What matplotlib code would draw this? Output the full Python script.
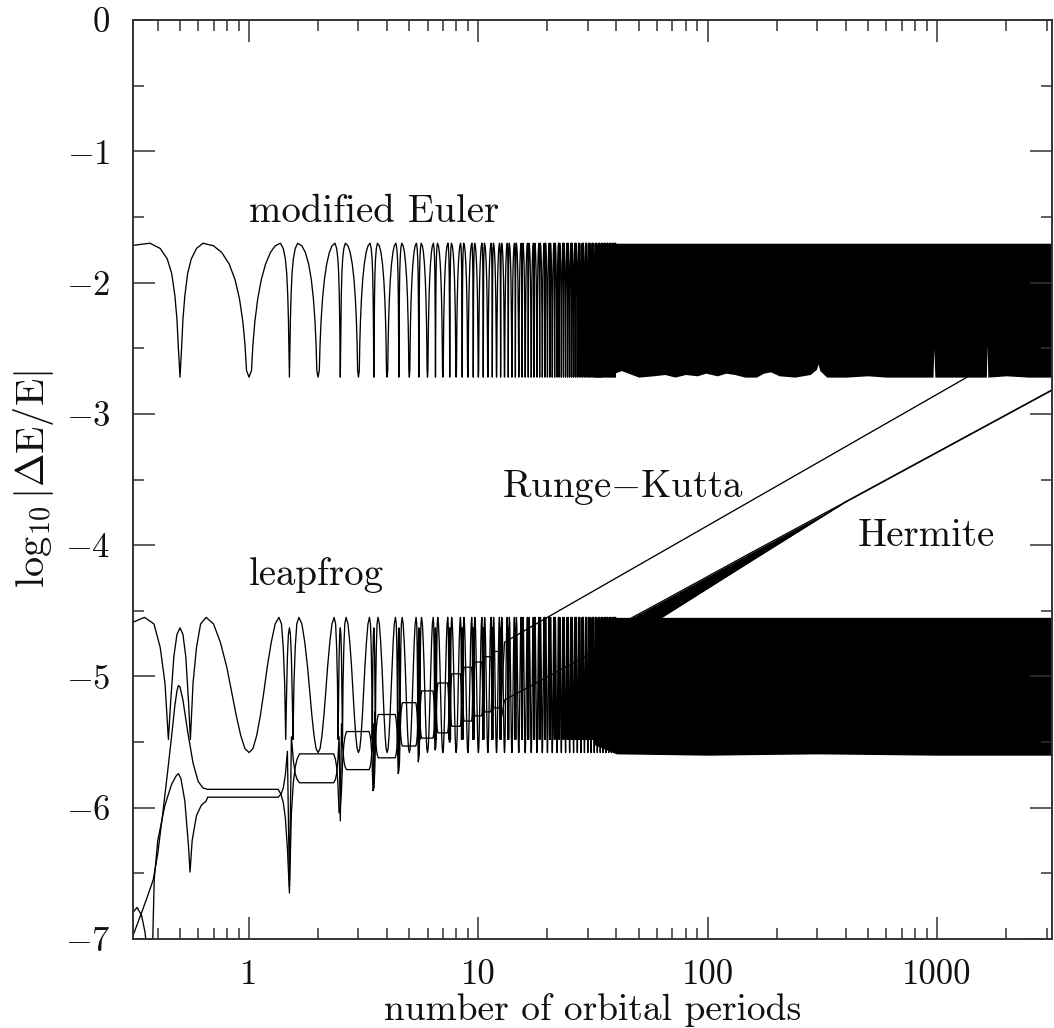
import numpy as np
import matplotlib
matplotlib.use("Agg")
import matplotlib.pyplot as plt
from matplotlib.ticker import FixedLocator, FixedFormatter, LogLocator, MultipleLocator, NullFormatter

# ---------------- values ----------------
x_limits = [0.311, 3160.0]
y_limits = [-7.0, 0.0]
x_tick_values = [1, 10, 100, 1000]
x_tick_labels = ["1", "10", "100", "1000"]
y_tick_values = [0, -1, -2, -3, -4, -5, -6, -7]
y_tick_labels = ["0", "$-1$", "$-2$", "$-3$", "$-4$", "$-5$", "$-6$", "$-7$"]

# modified Euler: level over one half orbit (phase 0 = apocentre, 0.5 = pericentre)
euler_phase = [0.000, 0.025, 0.040, 0.060, 0.090, 0.130, 0.180, 0.240, 0.300,
               0.370, 0.410, 0.440, 0.460, 0.475, 0.485, 0.492, 0.500]
euler_level = [-2.72, -2.67, -2.47, -2.30, -2.13, -1.98, -1.86, -1.77, -1.72,
               -1.70, -1.74, -1.82, -1.93, -2.10, -2.28, -2.50, -2.72]
euler_orbits = 40
euler_band_top = -1.70
euler_band_t = [32, 34, 38, 42, 45, 50, 58, 65, 72, 80, 90, 98, 110, 120, 131, 145,
                163, 175, 188, 205, 240, 280, 298, 303, 308, 330, 400, 500, 600, 800,
                960, 968, 978, 1200, 1640, 1650, 1665, 2000, 2500, 3160]
euler_band_low = [-2.72, -2.72, -2.70, -2.67, -2.69, -2.72, -2.71, -2.70, -2.72, -2.70,
                  -2.71, -2.69, -2.71, -2.69, -2.70, -2.72, -2.72, -2.69, -2.68, -2.71,
                  -2.72, -2.70, -2.66, -2.62, -2.67, -2.72, -2.72, -2.71, -2.72, -2.72,
                  -2.72, -2.50, -2.72, -2.72, -2.72, -2.48, -2.72, -2.71, -2.72, -2.72]

# leapfrog: level over one half orbit
leap_phase = [0.000, 0.040, 0.080, 0.120, 0.160, 0.200, 0.250, 0.300, 0.350,
              0.385, 0.410, 0.430, 0.445, 0.455, 0.470, 0.485, 0.500]
leap_level = [-5.58, -5.55, -5.45, -5.30, -5.12, -4.93, -4.74, -4.60, -4.55,
              -4.60, -4.78, -5.05, -5.48, -5.20, -4.85, -4.68, -4.63]
leap_orbits = 40
leap_band_top = -4.55
leap_band_t = [32, 40, 100, 300, 1000, 3160]
leap_band_low = [-5.52, -5.59, -5.60, -5.59, -5.60, -5.60]

# Runge-Kutta
rk_init_t = [0.311, 0.340, 0.360, 0.382, 0.400, 0.420, 0.440, 0.460, 0.475, 0.485,
             0.492, 0.500, 0.515, 0.540, 0.570, 0.600, 0.630]
rk_init_v = [-6.98, -6.80, -6.68, -6.55, -6.35, -6.05, -5.75, -5.45, -5.22, -5.11,
             -5.07, -5.08, -5.18, -5.42, -5.66, -5.80, -5.85]
rk_plateau = [-5.86, -5.59, -5.42, -5.29, -5.20, -5.11, -5.05, -4.98, -4.93, -4.89, -4.85, -4.81]
rk_dip = [-6.65, -6.00, -5.85, -5.72, -5.62, -5.55, -5.50, -5.45, -5.40, -5.36, -5.32, -5.28]
rk_line_t = [13.0, 20.0, 1500.0]
rk_line_v = [-4.74, -4.55, -2.675]

# Hermite
herm_init_t = [0.311, 0.325, 0.340, 0.352, 0.360, 0.366, 0.378, 0.381, 0.386, 0.400, 0.430,
               0.460, 0.480, 0.492, 0.505, 0.525, 0.545, 0.553, 0.565, 0.590, 0.620, 0.650]
herm_init_v = [-6.80, -6.76, -6.82, -6.95, -7.10, -7.40, -7.40, -6.95, -6.55, -6.25, -5.98,
               -5.82, -5.76, -5.74, -5.78, -5.95, -6.30, -6.49, -6.25, -6.06, -5.98, -5.95]
herm_plateau = [-5.92, -5.81, -5.71, -5.62, -5.53, -5.47, -5.43, -5.38, -5.34, -5.30, -5.27, -5.24]
herm_dip = [-6.60, -6.10, -5.85, -5.66, -5.60, -5.55, -5.50, -5.47, -5.44, -5.41, -5.38, -5.35]
herm_line_t = [13.0, 40.0]
herm_line_v = [-5.18, -4.72]
herm_wedge_t = [40, 47, 63, 150, 400]
herm_wedge_hi = [-4.62, -4.55, -4.43, -4.07, -3.67]
herm_wedge_lo = [-4.77, -4.69, -4.55, -4.135, -3.67]
herm_tail_t = [400, 3160]
herm_tail_v = [-3.67, -2.82]

# shape of one orbit "pillow" (offset around the orbit-centred plateau)
pillow_u = [-0.47, -0.44, -0.41, -0.38, -0.34, 0.34, 0.38, 0.41, 0.44, 0.47]
rk_shape = [-0.45, -0.22, -0.10, -0.04, 0.0, 0.0, -0.04, -0.10, -0.22, -0.45]
herm_shape = [0.35, 0.17, 0.07, 0.025, 0.0, 0.0, 0.025, 0.07, 0.17, 0.35]

labels = {
    "modified Euler": (1.0, -1.54),
    "Runge$-$Kutta": (12.65, -3.633),
    "leapfrog": (1.0, -4.30),
    "Hermite": (451.0, -4.01),
}

# ---------------- helpers ----------------
def tile_orbits(phase, level, n_orbits, t_start):
    ph = np.asarray(phase, float)
    lv = np.asarray(level, float)
    ph_full = np.concatenate([ph, 1.0 - ph[::-1][1:]])
    lv_full = np.concatenate([lv, lv[::-1][1:]])
    ts, vs = [], []
    for k in range(n_orbits):
        ts.append(k + ph_full[:-1])
        vs.append(lv_full[:-1])
    t = np.concatenate(ts)
    v = np.concatenate(vs)
    keep = t >= t_start - 0.02
    return t[keep], v[keep]


def pillows(init_t, init_v, plateau, dip, shape):
    t = list(init_t)
    v = list(init_v)
    for i, p in enumerate(plateau):
        n = i + 1
        for u, off in zip(pillow_u, shape):
            if n == 1 and u < -0.34:
                continue
            t.append(n + u)
            v.append(p + off)
        t.append(n + 0.5)
        v.append(dip[i])
    return t, v

# ---------------- figure ----------------
plt.rcParams["font.family"] = ["cmr10", "DejaVu Serif"]
plt.rcParams["mathtext.fontset"] = "cm"
plt.rcParams["axes.unicode_minus"] = False
plt.rcParams["axes.formatter.use_mathtext"] = True

fig = plt.figure(figsize=(10.54, 10.28), dpi=100)
ax = fig.add_axes([0.1259, 0.0866, 0.8719, 0.8939])
ax.set_xscale("log")

lw = 0.95
col = "black"

# modified Euler
te, ve = tile_orbits(euler_phase, euler_level, euler_orbits, x_limits[0])
ax.plot(te, ve, color=col, lw=lw)
ax.fill_between(euler_band_t, euler_band_top, euler_band_low, color=col, lw=0)

# leapfrog
tl, vl = tile_orbits(leap_phase, leap_level, leap_orbits, x_limits[0])
ax.plot(tl, vl, color=col, lw=lw)
ax.fill_between(leap_band_t, leap_band_top, leap_band_low, color=col, lw=0)

# Runge-Kutta
rt, rv = pillows(rk_init_t, rk_init_v, rk_plateau, rk_dip, rk_shape)
rt += rk_line_t
rv += rk_line_v
ax.plot(rt, rv, color=col, lw=lw)

# Hermite
ht, hv = pillows(herm_init_t, herm_init_v, herm_plateau, herm_dip, herm_shape)
ht += herm_line_t
hv += herm_line_v
ax.plot(ht, hv, color=col, lw=lw)
ax.fill_between(herm_wedge_t, herm_wedge_hi, herm_wedge_lo, color=col, lw=0)
ax.plot(herm_wedge_t, herm_wedge_hi, color=col, lw=lw)
ax.plot(herm_wedge_t, herm_wedge_lo, color=col, lw=lw)
ax.plot(herm_tail_t, herm_tail_v, color=col, lw=lw * 1.3)

# texts
for txt, (xt, yt) in labels.items():
    ax.text(xt, yt, txt, fontsize=28, ha="left", va="baseline", color="#111111")

ax.set_xlim(*x_limits)
ax.set_ylim(*y_limits)

ax.xaxis.set_major_locator(FixedLocator(x_tick_values))
ax.xaxis.set_major_formatter(FixedFormatter(x_tick_labels))
ax.xaxis.set_minor_locator(LogLocator(base=10, subs=np.arange(2, 10), numticks=50))
ax.xaxis.set_minor_formatter(NullFormatter())
ax.yaxis.set_major_locator(FixedLocator(y_tick_values))
ax.yaxis.set_major_formatter(FixedFormatter(y_tick_labels))
ax.yaxis.set_minor_locator(MultipleLocator(0.5))

ax.tick_params(which="both", direction="in", top=True, right=True, colors="#333333",
               labelcolor="#111111")
ax.tick_params(which="major", length=15.8, width=1.1, labelsize=25)
ax.tick_params(which="minor", length=8, width=1.1)
ax.tick_params(axis="x", which="major", pad=15)
ax.tick_params(axis="y", which="major", pad=16)
for s in ax.spines.values():
    s.set_linewidth(1.4)
    s.set_color("#333333")

ax.set_xlabel("number of orbital periods", fontsize=27, labelpad=1.5, color="#111111")
ax.set_ylabel(r"$\log_{10}|\Delta \mathrm{E}/\mathrm{E}|$", fontsize=29, labelpad=6,
              color="#111111")

fig.savefig("out.png", dpi=100)
